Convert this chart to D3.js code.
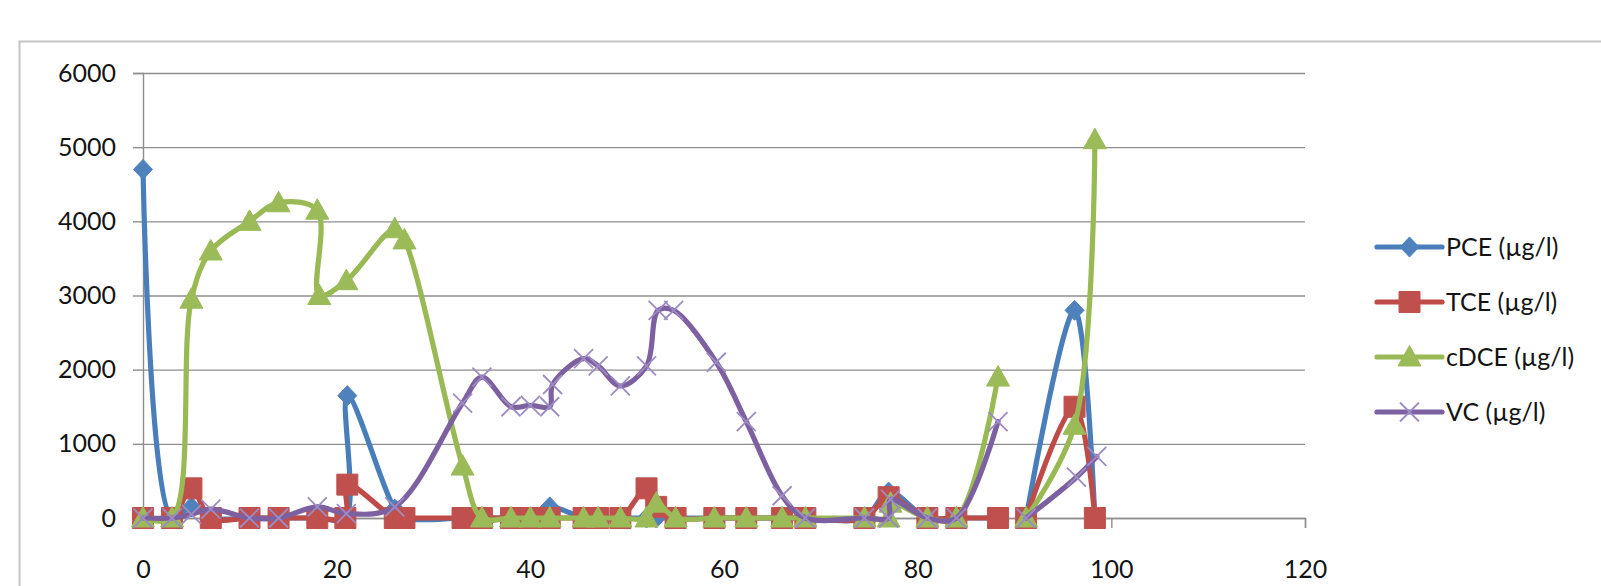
<!DOCTYPE html>
<html lang="en">
<head>
<meta charset="UTF-8">
<title>PCE / TCE / cDCE / VC</title>
<script src="https://cdnjs.cloudflare.com/ajax/libs/d3/7.8.5/d3.min.js"></script>
<style>
    body { margin: 0; background: #fff; }
    text { font-family: Lato, "Liberation Sans", sans-serif; fill: #141414; }
    .grid line { stroke: #8e8e8e; stroke-width: 1.4px; }
    .grid path { display: none; }
    .axis path, .axis line { stroke: #8e8e8e; stroke-width: 1.4px; }
    .axis text { font-size: 25px; }
    .legend text { font-size: 25px; }
</style>
</head>
<body>
<div id="chart"></div>
<script>
// data (x = position, y = concentration in µg/l)
const pceX = [0, 3, 5, 7, 11, 14, 18, 20.9, 21.1, 26, 27, 33, 35, 38, 40, 42, 45.5, 47, 49.3, 52, 53, 55, 59, 62.3, 66, 68.4, 74.5, 77, 81, 84, 88.3, 90, 91.2, 96.2, 98.3];
const pceY = [4700, 0, 150, 0, 0, 0, 0, 0, 1650, 120, 0, 0, 0, 0, 0, 150, 0, 0, 0, 0, 0, 0, 0, 0, 0, 0, 0, 350, 0, 0, 0, null, 0, 2800, 0];

const tceX = [0, 3, 5, 7, 11, 14, 18, 20.9, 21.1, 26, 27, 33, 35, 38, 40, 42, 45.5, 47, 49.3, 52, 53, 55, 59, 62.3, 66, 68.4, 74.5, 77, 81, 84, 88.3, 90, 91.2, 96.2, 98.3];
const tceY = [0, 0, 400, 0, 0, 0, 0, 0, 450, 0, 0, 0, 0, 0, 0, 0, 0, 0, 0, 400, 150, 0, 0, 0, 0, 0, 0, 280, 0, 0, 0, null, 0, 1500, 0];

const dceX = [0, 3, 5, 7, 11, 14, 18, 18.2, 21, 26, 27, 33, 35, 38, 40, 42, 45.5, 47, 49.3, 52, 53, 55, 59, 62.3, 66, 68.4, 74.5, 77, 77.2, 81, 84, 88.3, 90, 91.2, 96.2, 98.3];
const dceY = [0, 0, 2950, 3600, 4000, 4250, 4150, 3000, 3200, 3900, 3750, 700, 0, 0, 0, 0, 0, 0, 0, 0, 200, 0, 0, 0, 0, 0, 0, 0, 200, 0, 0, 1900, null, 0, 1250, 5100];

const vcX = [0, 3, 5, 7, 11, 14, 18, 21, 26, 33, 35, 38, 40, 42, 42.3, 45.5, 47, 49.3, 52, 53.2, 54.8, 59.2, 62.3, 66, 68.4, 74.5, 77, 77.2, 81, 84, 88.3, 90, 91.2, 96.4, 98.5];
const vcY = [0, 0, 50, 120, 0, 0, 150, 60, 150, 1550, 1900, 1500, 1520, 1500, 1800, 2150, 2050, 1780, 2050, 2800, 2800, 2100, 1300, 300, 0, 0, 0, 250, 0, 0, 1300, null, 0, 550, 830];

const seriesNames = ["PCE (µg/l)", "TCE (µg/l)", "cDCE (µg/l)", "VC (µg/l)"];
const xTicks = [0, 20, 40, 60, 80, 100, 120];
const yTicks = [0, 1000, 2000, 3000, 4000, 5000, 6000];

const width = 1601, height = 586;
const plot = { left: 143, right: 1305, top: 73, bottom: 518 };

const series = [
    { name: seriesNames[0], xs: pceX, ys: pceY, color: "#4a7ebb", fill: "#4f81bd", marker: "diamond" },
    { name: seriesNames[1], xs: tceX, ys: tceY, color: "#be4b48", fill: "#c0504d", marker: "square" },
    { name: seriesNames[2], xs: dceX, ys: dceY, color: "#98b954", fill: "#9bbb59", marker: "triangle" },
    { name: seriesNames[3], xs: vcX, ys: vcY, color: "#7d60a0", fill: "#9d8bc4", marker: "x" }
];

// marker shapes, centred on the point
const markerPath = {
    diamond: "M0,-10L9.5,0L0,10L-9.5,0Z",
    square: "M-10.5,-10.5H10.5V10.5H-10.5Z",
    triangle: "M0,-11.5L11.5,9L-11.5,9Z",
    x: "M-9.5,-9.5L9.5,9.5M9.5,-9.5L-9.5,9.5"
};

const svg = d3.select("#chart").append("svg")
    .attr("width", width)
    .attr("height", height);

// chart area border
svg.append("rect")
    .attr("x", 19.5).attr("y", 41.5)
    .attr("width", width).attr("height", height)
    .attr("fill", "none")
    .attr("stroke", "#c4c4c4")
    .attr("stroke-width", 2);

const x = d3.scaleLinear().domain([0, 120]).range([plot.left, plot.right]);
const y = d3.scaleLinear().domain([0, 6000]).range([plot.bottom, plot.top]);

// gridlines
svg.append("g")
    .attr("class", "grid")
    .attr("transform", `translate(${plot.left},0)`)
    .call(d3.axisLeft(y).tickValues(yTicks).tickSize(-(plot.right - plot.left)).tickFormat(""));

// y axis
svg.append("g")
    .attr("class", "axis")
    .attr("transform", `translate(${plot.left},0)`)
    .call(d3.axisLeft(y).tickValues(yTicks).tickFormat(d3.format("d"))
        .tickSizeOuter(0).tickSize(10).tickPadding(17));

// x axis
svg.append("g")
    .attr("class", "axis")
    .attr("transform", `translate(0,${plot.bottom})`)
    .call(d3.axisBottom(x).tickValues(xTicks).tickFormat(d3.format("d"))
        .tickSizeOuter(0).tickSize(10).tickPadding(32));

const line = d3.line()
    .defined(d => d[1] != null)
    .x(d => x(d[0]))
    .y(d => y(d[1]))
    .curve(d3.curveCatmullRom.alpha(0.5));

function drawMarker(sel, s) {
    if (s.marker === "x") {
        sel.attr("d", markerPath.x)
            .attr("fill", "none")
            .attr("stroke", s.fill)
            .attr("stroke-width", 1.8);
    } else {
        sel.attr("d", markerPath[s.marker])
            .attr("fill", s.fill)
            .attr("stroke", s.fill)
            .attr("stroke-width", 1);
    }
}

series.forEach(s => {
    const pts = s.xs.map((v, i) => [v, s.ys[i]]);
    const g = svg.append("g");
    g.append("path")
        .datum(pts)
        .attr("fill", "none")
        .attr("stroke", s.color)
        .attr("stroke-width", 5.2)
        .attr("stroke-linejoin", "round")
        .attr("stroke-linecap", "round")
        .attr("d", line);
    g.selectAll("path.m")
        .data(pts.filter(d => d[1] != null))
        .enter().append("path")
        .attr("class", "m")
        .attr("transform", d => `translate(${x(d[0])},${y(d[1])})`)
        .call(drawMarker, s);
});

// legend
const legend = svg.append("g").attr("class", "legend");
series.forEach((s, i) => {
    const ly = 247 + i * 55;
    const item = legend.append("g").attr("transform", `translate(1377,${ly})`);
    item.append("line")
        .attr("x1", 0).attr("x2", 65)
        .attr("stroke", s.color)
        .attr("stroke-width", 5.2)
        .attr("stroke-linecap", "round");
    item.append("path")
        .attr("transform", "translate(32.5,0)")
        .call(drawMarker, s);
    item.append("text")
        .attr("x", 69)
        .attr("dy", "0.35em")
        .text(s.name);
});
</script>
</body>
</html>
